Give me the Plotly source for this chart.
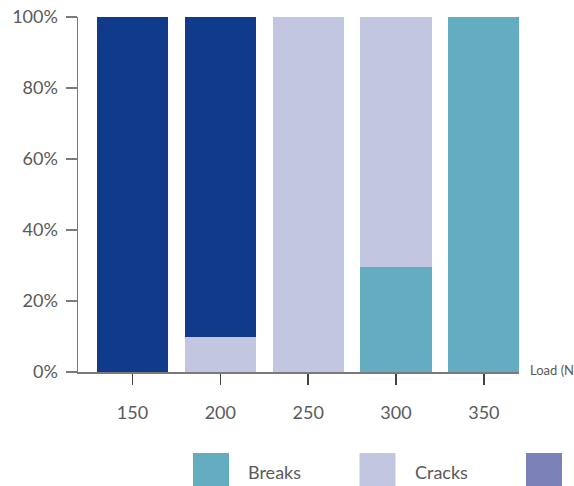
import plotly.graph_objects as go

# ---- data ----
categories = ["150", "200", "250", "300", "350"]
breaks = [0.0, 0.0, 0.0, 0.296, 1.0]
cracks = [0.0, 0.10, 1.0, 0.704, 0.0]
intact = [1.0, 0.90, 0.0, 0.0, 0.0]

legend_labels = ["Breaks", "Cracks", ""]
legend_colors = ["#64ACBF", "#C2C6E1", "#7B82B7"]

C_BREAKS = "#64ACBF"
C_CRACKS = "#C2C6E1"
C_INTACT = "#0F3B8A"
TEXT = "#5a5a5a"
AXIS = "#7a7a7a"
FONT = "Lato"

W, H = 574, 486
L, R, T, B = 78, 55, 17, 114
PW, PH = W - L - R, H - T - B


def px_x(p):
    return (p - L) / PW


def px_y(p):
    return (H - B - p) / PH


fig = go.Figure()
fig.add_trace(go.Bar(x=categories, y=breaks, name="Breaks", marker_color=C_BREAKS,
                     marker_line_width=0, showlegend=False))
fig.add_trace(go.Bar(x=categories, y=cracks, name="Cracks", marker_color=C_CRACKS,
                     marker_line_width=0, showlegend=False))
fig.add_trace(go.Bar(x=categories, y=intact, name="Intact", marker_color=C_INTACT,
                     marker_line_width=0, showlegend=False))

# manual legend (large square swatches)
shapes = []
annotations = []
start, step, sw = 193, 166.5, 36
for i, (lab, col) in enumerate(zip(legend_labels, legend_colors)):
    x0 = start + i * step
    shapes.append(dict(type="rect", xref="paper", yref="paper",
                       x0=px_x(x0), x1=px_x(x0 + sw), y0=px_y(489), y1=px_y(453),
                       fillcolor=col, line_width=0, layer="above"))
    if lab:
        annotations.append(dict(text=lab, xref="paper", yref="paper",
                                x=px_x(x0 + 53), y=px_y(472), xanchor="left", yanchor="middle",
                                showarrow=False, font=dict(size=18, color=TEXT, family=FONT)))

annotations.append(dict(text="Load (N)", xref="paper", yref="paper",
                        x=px_x(528), y=px_y(370), xanchor="left", yanchor="middle",
                        showarrow=False, font=dict(size=13, color=TEXT, family=FONT)))

fig.update_layout(
    width=W, height=H,
    margin=dict(l=L, r=R, t=T, b=B, pad=0),
    barmode="stack",
    bargap=0.19,
    hovermode=False,
    plot_bgcolor="white",
    paper_bgcolor="white",
    font=dict(family=FONT, size=18, color=TEXT),
    shapes=shapes,
    annotations=annotations,
    showlegend=False,
    xaxis=dict(
        type="category",
        range=[-0.62, 4.40],
        automargin=False,
        showline=True, linecolor=AXIS, linewidth=1.5,
        ticks="outside", ticklen=11, tickcolor="#444444", tickwidth=1.5,
        tickfont=dict(size=18, color=TEXT, family=FONT),
        ticklabelstandoff=13,
        showgrid=False, zeroline=False,
    ),
    yaxis=dict(
        range=[0, 1.0], dtick=0.2, tickformat=".0%",
        automargin=False,
        showline=True, linecolor=AXIS, linewidth=1.5,
        ticks="outside", ticklen=11, tickcolor=AXIS, tickwidth=1.5,
        tickfont=dict(size=18, color=TEXT, family=FONT),
        ticklabelstandoff=4,
        showgrid=False, zeroline=False,
    ),
)

fig.write_html("out.html", config={"displayModeBar": False, "staticPlot": True},
               post_script="document.body.style.margin='0';")
